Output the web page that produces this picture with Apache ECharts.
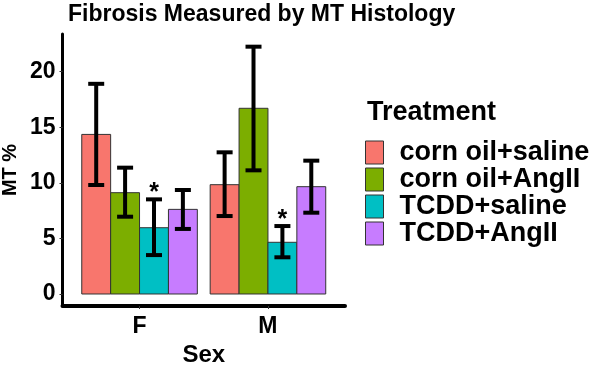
<!DOCTYPE html>
<html>
<head>
<meta charset="utf-8">
<script src="https://cdn.jsdelivr.net/npm/echarts@6/dist/echarts.min.js"></script>
<style>
  html, body { margin: 0; padding: 0; background: #fff; }
  #chart { width: 596px; height: 365px; }
</style>
</head>
<body>
<div id="chart"></div>
<script>
// ---- Data ----
const categories = ['F', 'M'];
const treatments = ['corn oil+saline', 'corn oil+AngII', 'TCDD+saline', 'TCDD+AngII'];
const colors = ['#F8766D', '#7CAE00', '#00BFC4', '#C77CFF'];

// mean MT % per sex (F, M)
const cornOilSaline = [14.35, 9.83];
const cornOilAngII  = [9.11, 16.70];
const tcddSaline    = [5.96, 4.65];
const tcddAngII     = [7.61, 9.65];

// error bar lower / upper limits (F, M)
const cornOilSalineLo = [9.80, 7.01];
const cornOilSalineHi = [18.90, 12.74];
const cornOilAngIILo  = [6.95, 11.12];
const cornOilAngIIHi  = [11.36, 22.24];
const tcddSalineLo    = [3.50, 3.30];
const tcddSalineHi    = [8.51, 6.11];
const tcddAngIILo     = [5.85, 7.31];
const tcddAngIIHi     = [9.35, 11.99];

// significance markers (F, M)
const cornOilSalineSig = ['', ''];
const cornOilAngIISig  = ['', ''];
const tcddSalineSig    = ['*', '*'];
const tcddAngIISig     = ['', ''];

const yTicks = [0, 5, 10, 15, 20];

// ---- Build ----
const means = [cornOilSaline, cornOilAngII, tcddSaline, tcddAngII];
const los = [cornOilSalineLo, cornOilAngIILo, tcddSalineLo, tcddAngIILo];
const his = [cornOilSalineHi, cornOilAngIIHi, tcddSalineHi, tcddAngIIHi];
const sigs = [cornOilSalineSig, cornOilAngIISig, tcddSalineSig, tcddAngIISig];

const FONT = "'Liberation Sans', Arial, sans-serif";
const dodge = 0.9;
const bw = dodge / treatments.length;

function makeRender(s) {
  return function (params, api) {
    const c = api.value(0) + 1 - dodge / 2 + bw * (s + 0.5);
    const p0 = api.coord([c - bw / 2, 0]);
    const p1 = api.coord([c + bw / 2, api.value(1)]);
    const top = api.coord([c, api.value(3)]);
    const bot = api.coord([c, api.value(2)]);
    const cap = 8;
    const children = [
      { type: 'rect', shape: { x: p0[0], y: p1[1], width: p1[0] - p0[0], height: p0[1] - p1[1] },
        style: { fill: api.visual('color'), stroke: '#333', lineWidth: 1 } },
      { type: 'line', shape: { x1: top[0], y1: top[1], x2: bot[0], y2: bot[1] },
        style: { stroke: '#000', lineWidth: 4 } },
      { type: 'line', shape: { x1: top[0] - cap, y1: top[1], x2: top[0] + cap, y2: top[1] },
        style: { stroke: '#000', lineWidth: 4 } },
      { type: 'line', shape: { x1: bot[0] - cap, y1: bot[1], x2: bot[0] + cap, y2: bot[1] },
        style: { stroke: '#000', lineWidth: 4 } }
    ];
    const sig = sigs[s][api.value(0)];
    if (sig) {
      children.push({ type: 'text', style: { text: sig, x: top[0], y: top[1] - 6,
        align: 'center', verticalAlign: 'middle', font: 'bold 25px ' + FONT, fill: '#000' } });
    }
    return { type: 'group', children: children };
  };
}

const series = treatments.map((t, s) => ({
  name: t,
  type: 'custom',
  renderItem: makeRender(s),
  itemStyle: { color: colors[s], borderColor: '#333', borderWidth: 1 },
  encode: { x: 0, y: 1 },
  data: categories.map((c, i) => [i, means[s][i], los[s][i], his[s][i]])
}));

const chart = echarts.init(document.getElementById('chart'), null, { renderer: 'canvas' });
chart.setOption({
  animation: false,
  title: {
    text: 'Fibrosis Measured by MT Histology',
    left: 63, top: -2,
    textStyle: { fontFamily: FONT, fontWeight: 'bold', fontSize: 23, color: '#000' }
  },
  graphic: [{
    type: 'text', left: 367, top: 99,
    style: { text: 'Treatment', font: 'bold 27px ' + FONT, fill: '#000' }
  }],
  legend: {
    data: treatments,
    orient: 'vertical',
    left: 365, top: 139, padding: 0,
    icon: 'rect',
    itemWidth: 18, itemHeight: 23, itemGap: 0,
    itemStyle: { borderColor: '#333', borderWidth: 1 },
    textStyle: { fontFamily: FONT, fontWeight: 'bold', fontSize: 27, lineHeight: 23, color: '#000', padding: [0, 0, 0, 11] }
  },
  grid: { left: 62.5, right: 251, top: 34, bottom: 59, containLabel: false, outerBoundsMode: 'none' },
  xAxis: {
    type: 'value', min: 0.4, max: 2.6,
    name: 'Sex', nameLocation: 'middle', nameGap: 33,
    nameTextStyle: { fontFamily: FONT, fontWeight: 'bold', fontSize: 24, color: '#000' },
    splitLine: { show: false },
    axisLine: { show: true, onZero: false, lineStyle: { color: '#000', width: 4 } },
    axisTick: { show: true, customValues: [1, 2], length: 3, lineStyle: { color: '#333', width: 1 } },
    axisLabel: { customValues: [1, 2], margin: 9, formatter: v => categories[Math.round(v) - 1] || '',
      fontFamily: FONT, fontWeight: 'bold', fontSize: 23, color: '#000' }
  },
  yAxis: {
    type: 'value', min: -1.08, max: 23.38,
    name: 'MT %', nameLocation: 'middle', nameGap: 42, nameRotate: 90,
    nameTextStyle: { fontFamily: FONT, fontWeight: 'bold', fontSize: 20, color: '#000' },
    splitLine: { show: false },
    axisLine: { show: true, onZero: false, lineStyle: { color: '#000', width: 3 } },
    axisTick: { show: true, customValues: yTicks, length: 3, lineStyle: { color: '#333', width: 1 } },
    axisLabel: { customValues: yTicks, margin: 7,
      fontFamily: FONT, fontWeight: 'bold', fontSize: 23, color: '#000' }
  },
  series: series
});
</script>
</body>
</html>
